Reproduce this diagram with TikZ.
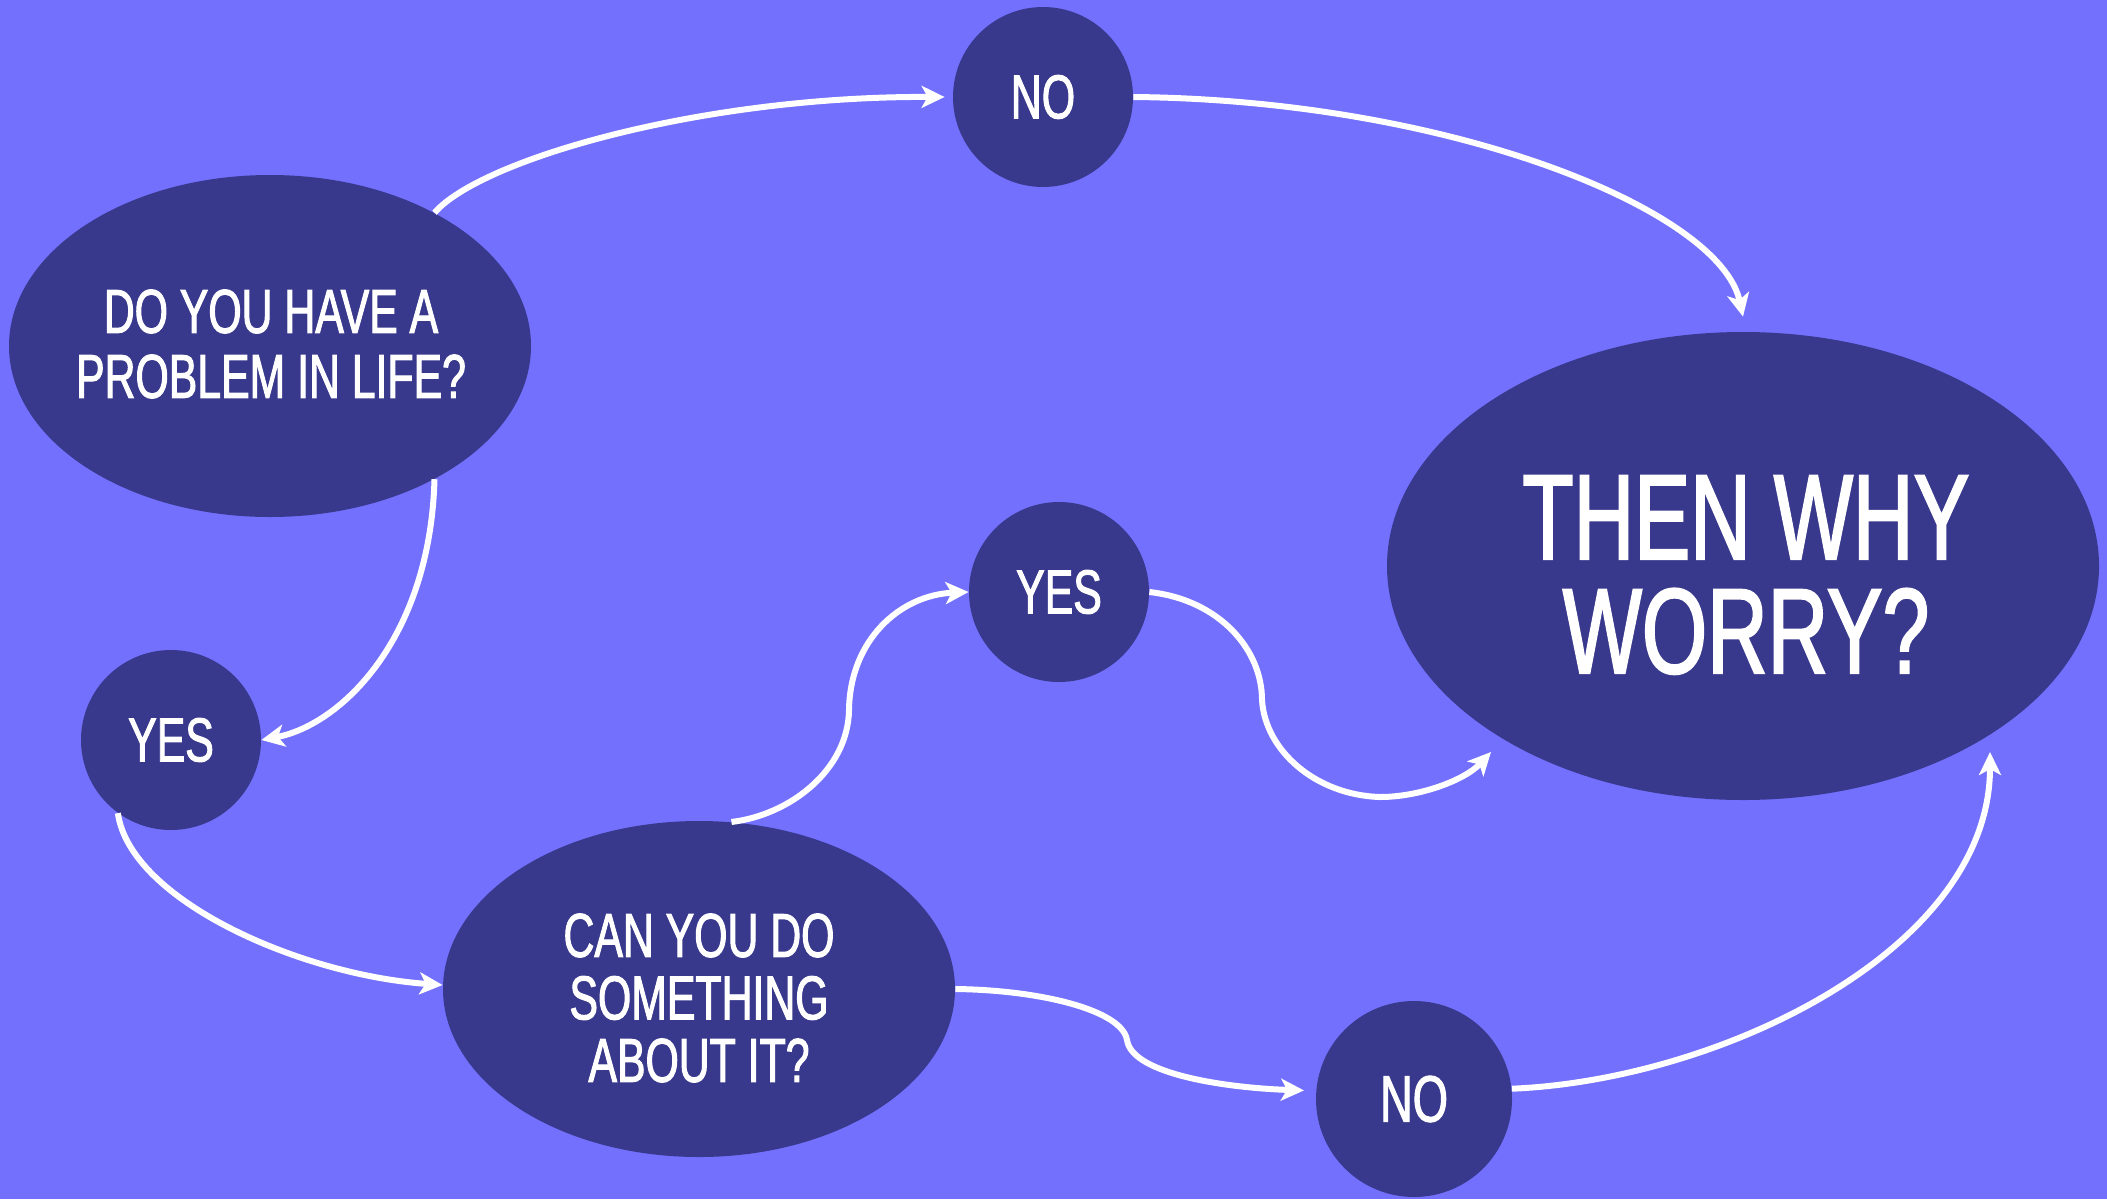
\documentclass[tikz,border=0pt]{standalone}
\usepackage{fontspec}
\newfontfamily\condfont{Liberation Sans}[FakeStretch=0.69,FakeBold=1.6,UprightFont=*,UprightFeatures={FakeBold=1.6}]
\usetikzlibrary{arrows.meta,shapes.geometric}
\definecolor{bgc}{RGB}{115,112,254}
\definecolor{nodec}{RGB}{56,57,140}
\begin{document}
\begin{tikzpicture}[x=0.5pt,y=-0.5pt,
  bubble/.style={ellipse, fill=nodec, draw=none, inner sep=0pt},
  disc/.style={circle, fill=nodec, draw=none, inner sep=0pt, text=white, font=\condfont\fontsize{31}{32.5}\selectfont},
  lbl/.style={text=white, align=center, inner sep=0pt},
  conn/.style={draw=white, line width=3pt, -{Stealth[length=11.5pt,width=11pt,inset=3pt]}}
]
\fill[bgc] (0,0) rectangle (2107,1199);
\useasboundingbox (0,0) rectangle (2107,1199);

% nodes
\node[bubble, minimum width=261pt, minimum height=171pt] (e1) at (270,346) {};
\node[lbl, font=\condfont\fontsize{31}{32.5}\selectfont] (e1t) at (271,344) {DO YOU HAVE A\\PROBLEM IN LIFE?};

\node[bubble, minimum width=356pt, minimum height=234pt] (then) at (1743,566) {};
\node[lbl, font=\condfont\fontsize{60.75}{57}\selectfont] (thent) at (1746,575) {THEN WHY\\WORRY?};

\node[bubble, minimum width=256pt, minimum height=168pt] (can) at (699,989) {};
\node[lbl, font=\condfont\fontsize{31}{31.25}\selectfont] (cant) at (699,998) {CAN YOU DO\\SOMETHING\\ABOUT IT?};

\node[disc, minimum size=90pt] (no1) at (1043,97) {NO};
\node[disc, minimum size=90pt] (yes2) at (1059,592) {YES};
\node[disc, minimum size=90pt] (yes1) at (171,740) {YES};
\node[disc, minimum size=98pt, font=\condfont\fontsize{32.8}{34}\selectfont] (no2) at (1414,1099) {NO};

\coordinate (t6) at (1491,752);
\coordinate (t8) at (1990,752);

% connectors
\draw[conn] (e1.39) .. controls (480,160) and (700,96) .. ([xshift=-4pt]no1.west);
\draw[conn] (no1.east) .. controls (1450,100) and (1720,210) .. ([yshift=7.5pt]then.north);
\draw[conn] (e1.-39) .. controls (430,640) and (340,725) .. (yes1.east);
\draw[conn] (yes1.-126) .. controls (130,900) and (300,975) .. ([yshift=2pt]can.west);
\draw[conn] (can.79) .. controls (790,815) and (848,770) .. (849,710)
   .. controls (850,640) and (900,595) .. (yes2.west);
\draw[conn] (yes2.east) .. controls (1220,600) and (1262,650) .. (1262,700)
   .. controls (1265,750) and (1315,795) .. (1380,797)
   .. controls (1420,797) and (1465,780) .. (t6);
\draw[conn] (can.east) .. controls (1040,990) and (1122,1010) .. (1127,1040)
   .. controls (1132,1075) and (1230,1088) .. ([xshift=-6pt]no2.175);
\draw[conn] (no2.6) .. controls (1720,1080) and (1990,950) .. (t8);
\end{tikzpicture}
\end{document}
